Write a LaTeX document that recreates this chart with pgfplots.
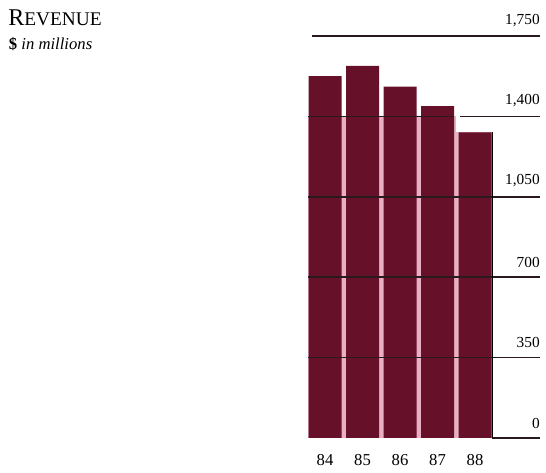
\documentclass[border=0pt]{standalone}
\usepackage{pgfplots}
\pgfplotsset{compat=1.18}
\usepackage{fontspec}
\setmainfont{Liberation Serif}
\definecolor{barc}{RGB}{102,16,42}
\definecolor{gapc}{RGB}{232,176,194}
\definecolor{gridc}{RGB}{42,26,32}
\begin{document}
\begin{tikzpicture}
\useasboundingbox (0,0) rectangle (409.5pt,354.75pt);
\node[anchor=base west, inner sep=0] at (6pt,335.25pt) {\fontsize{18}{18}\selectfont R\fontsize{14.5}{15}\selectfont EVENUE};
\node[anchor=base west, inner sep=0] at (6.5pt,317.25pt) {\fontsize{12.5}{13}\selectfont\textbf{\$} \itshape in millions};
\begin{axis}[
  at={(229.6875pt,26.25pt)}, anchor=south west,
  scale only axis, width=175.3125pt, height=301.5pt,
  xmin=-0.5, xmax=5.7333, ymin=0, ymax=1750,
  clip=false,
  axis line style={draw=none},
  tick style={draw=none},
  xtick=data, xticklabels={84,85,86,87,88},
  xticklabel style={font=\fontsize{12.5}{13}\selectfont, yshift=-9pt},
  ytick={0,350,700,1050,1400,1750},
  yticklabels={0,350,700,{1,050},{1,400},{1,750}},
  yticklabel pos=right,
  yticklabel style={font=\fontsize{11.5}{12}\selectfont, anchor=south east, inner sep=0pt, yshift=7pt},
  /pgf/number format/assume math mode=true,
]
\fill[gapc] (axis cs:-0.45,0) rectangle (axis cs:3.5,1400);
\fill[gapc] (axis cs:3.5,0) rectangle (axis cs:4.45,1330);
\addplot[ybar, bar width=24.75pt, fill=barc, draw=none] coordinates {(0,1575) (1,1620) (2,1530) (3,1445) (4,1330)};
\draw[gridc, line width=1.3pt] (axis cs:4.453,0) -- (axis cs:5.7333,0);
\foreach \v in {350,700,1050} {
  \edef\tmp{\noexpand\draw[gridc, line width=1.3pt] (axis cs:-0.45,\v) -- (axis cs:5.7333,\v);}\tmp
}
\draw[gridc, line width=1.3pt] (axis cs:-0.45,1400) -- (axis cs:3.45,1400);
\draw[gridc, line width=1.3pt] (axis cs:3.6,1400) -- (axis cs:5.7333,1400);
\draw[gridc, line width=1.2pt] (axis cs:-0.35,1750) -- (axis cs:5.7333,1750);
\draw[black, line width=1.2pt] (axis cs:4.47,0) -- (axis cs:4.47,1330);
\end{axis}
\end{tikzpicture}
\end{document}
